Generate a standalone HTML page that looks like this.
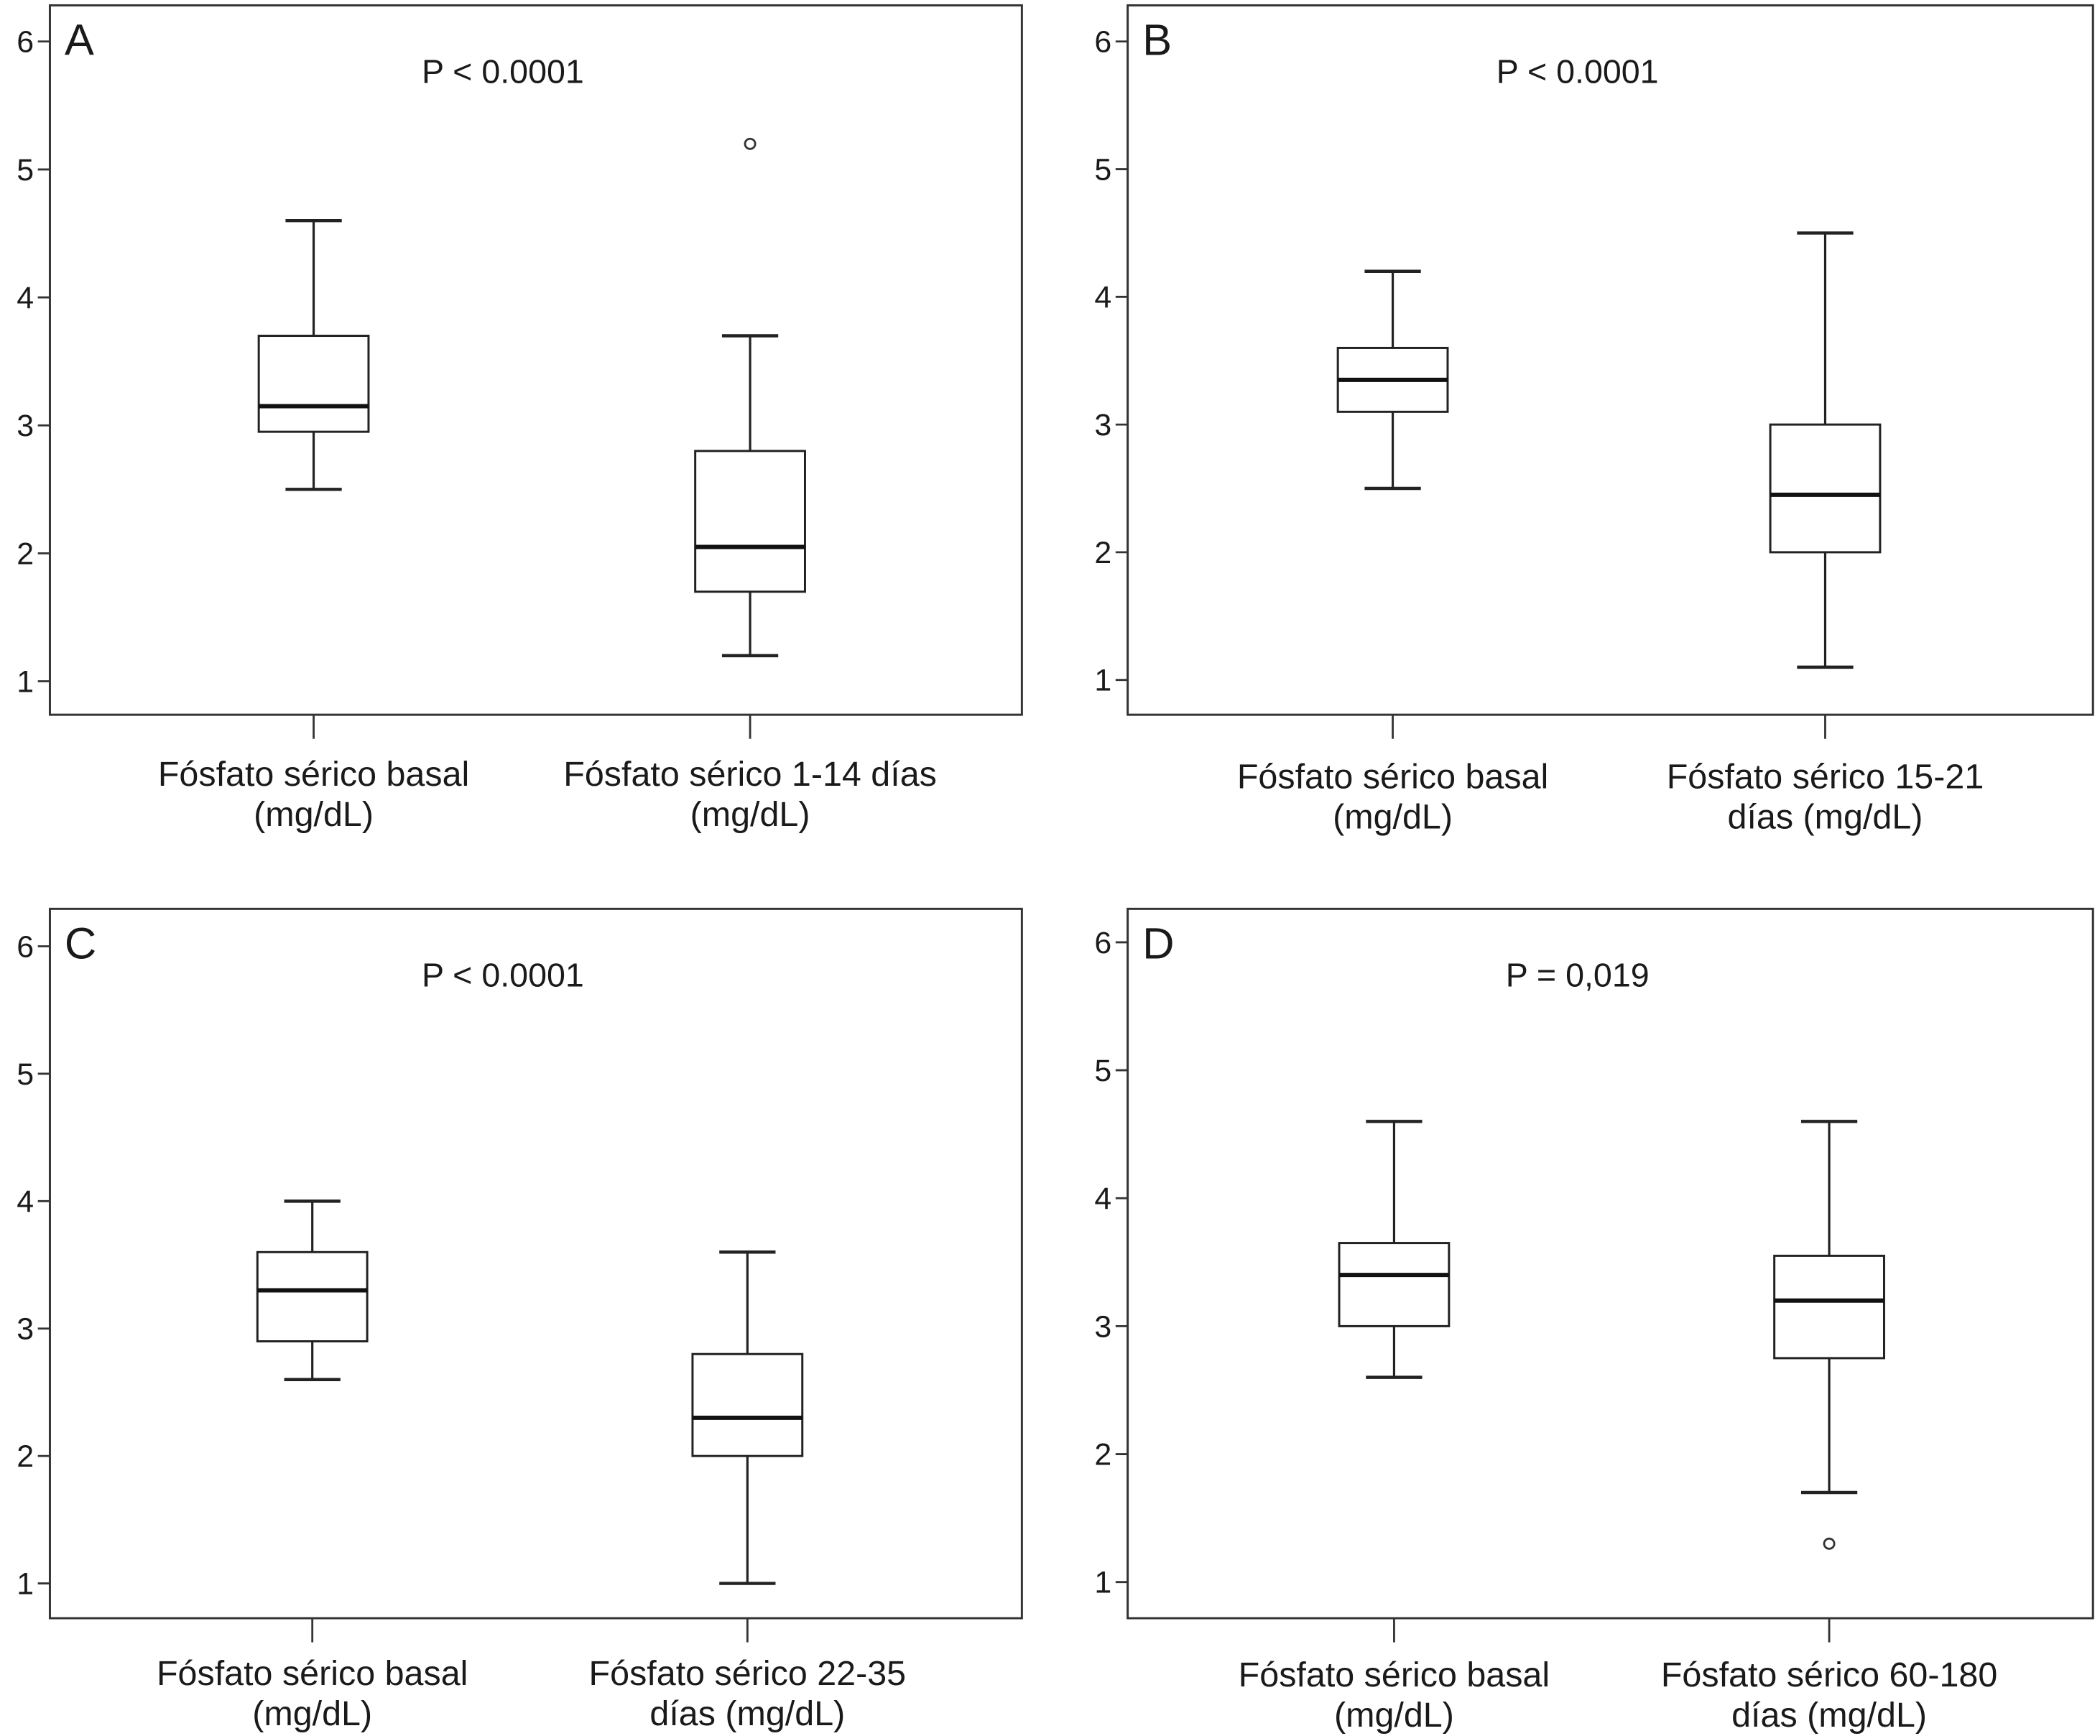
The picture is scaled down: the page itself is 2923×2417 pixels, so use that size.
<!DOCTYPE html>
<html><head><meta charset="utf-8"><style>
html,body{margin:0;padding:0;background:#fff;}
svg{display:block;}
text{font-family:"Liberation Sans",sans-serif;fill:#1a1a1a;}
</style></head><body>
<svg id="fig" width="2923" height="2417" viewBox="0 0 1568 1297" xmlns="http://www.w3.org/2000/svg"></svg>
<script>
const panelLetters = ["A","B","C","D"];
const pTexts = ["P < 0.0001","P < 0.0001","P < 0.0001","P = 0,019"];
const catLabels = [
  [["Fósfato sérico basal","(mg/dL)"],["Fósfato sérico 1-14 días","(mg/dL)"]],
  [["Fósfato sérico basal","(mg/dL)"],["Fósfato sérico 15-21","días (mg/dL)"]],
  [["Fósfato sérico basal","(mg/dL)"],["Fósfato sérico 22-35","días (mg/dL)"]],
  [["Fósfato sérico basal","(mg/dL)"],["Fósfato sérico 60-180","días (mg/dL)"]]
];
const mins    = [[2.5,1.2],[2.5,1.1],[2.6,1.0],[2.6,1.7]];
const q1s     = [[2.95,1.7],[3.1,2.0],[2.9,2.0],[3.0,2.75]];
const medians = [[3.15,2.05],[3.35,2.45],[3.3,2.3],[3.4,3.2]];
const q3s     = [[3.7,2.8],[3.6,3.0],[3.6,2.8],[3.65,3.55]];
const maxs    = [[4.6,3.7],[4.2,4.5],[4.0,3.6],[4.6,4.6]];
const outliers = [[[],[5.2]],[[],[]],[[],[]],[[],[1.3]]];
const yTicks = [1,2,3,4,5,6];

const layout = [
  {l:37,t:4,r:763,b:534,y6:31,y1:509,cx:[234,560],ly:578},
  {l:842,t:4,r:1563,b:534,y6:31,y1:508,cx:[1040,1363],ly:580},
  {l:37,t:679,r:763,b:1209,y6:707,y1:1183,cx:[233,558],ly:1250},
  {l:842,t:679,r:1563,b:1209,y6:704,y1:1182,cx:[1041,1366],ly:1251}
];
const NS="http://www.w3.org/2000/svg";
const svg=document.getElementById('fig');
function mk(tag,attrs,parent){const e=document.createElementNS(NS,tag);for(const k in attrs)e.setAttribute(k,attrs[k]);(parent||svg).appendChild(e);return e;}
layout.forEach((L,p)=>{
  const g=mk('g',{});
  
  
  const y=v=>L.y1+(v-1)*(L.y6-L.y1)/5;
  const fr=mk('rect',{x:L.l,y:L.t,width:L.r-L.l,height:L.b-L.t,fill:'none',stroke:'#333','stroke-width':1.6},g);
  
  
  yTicks.forEach(t=>{
    const ln=mk('line',{x1:L.l-9,x2:L.l,y1:y(t),y2:y(t),stroke:'#333','stroke-width':1.5},g);
    
    
    const tx=mk('text',{x:L.l-12,y:y(t)+8,'text-anchor':'end','font-size':23},g);
    tx.textContent=t;
    
    
  });
  const lt=mk('text',{x:L.l+11,y:L.t+37,'font-size':33},g);
  lt.textContent=panelLetters[p];
  
  
  const pt=mk('text',{x:L.l+(L.r-L.l)*0.466,y:L.t+58,'text-anchor':'middle','font-size':25},g);
  pt.textContent=pTexts[p];
  
  
  for(let c=0;c<2;c++){
    const cx=L.cx[c];
    const xt=mk('line',{x1:cx,x2:cx,y1:L.b,y2:L.b+18,stroke:'#333','stroke-width':1.5},g);
    
    
    catLabels[p][c].forEach((s,i)=>{
      const tx=mk('text',{x:cx,y:L.ly+i*30+9,'text-anchor':'middle','font-size':26,'textLength':null},g);
      tx.removeAttribute('textLength');
      tx.textContent=s;
      
      
    });
    const bw=41, cw=21;
    const bg=mk('g',{},g);
    
    
    mk('line',{x1:cx,x2:cx,y1:y(maxs[p][c]),y2:y(q3s[p][c]),stroke:'#222','stroke-width':1.7},bg);
    mk('line',{x1:cx,x2:cx,y1:y(q1s[p][c]),y2:y(mins[p][c]),stroke:'#222','stroke-width':1.7},bg);
    mk('line',{x1:cx-cw,x2:cx+cw,y1:y(maxs[p][c]),y2:y(maxs[p][c]),stroke:'#222','stroke-width':2.4},bg);
    mk('line',{x1:cx-cw,x2:cx+cw,y1:y(mins[p][c]),y2:y(mins[p][c]),stroke:'#222','stroke-width':2.4},bg);
    mk('rect',{x:cx-bw,y:y(q3s[p][c]),width:2*bw,height:y(q1s[p][c])-y(q3s[p][c]),fill:'#fff',stroke:'#222','stroke-width':1.6},bg);
    mk('line',{x1:cx-bw,x2:cx+bw,y1:y(medians[p][c]),y2:y(medians[p][c]),stroke:'#111','stroke-width':3.2},bg);
    outliers[p][c].forEach(v=>{
      const o=mk('circle',{cx:cx,cy:y(v),r:3.8,fill:'none',stroke:'#333','stroke-width':1.5},bg);
      
      
    });
  }
});
</script>
</body></html>
